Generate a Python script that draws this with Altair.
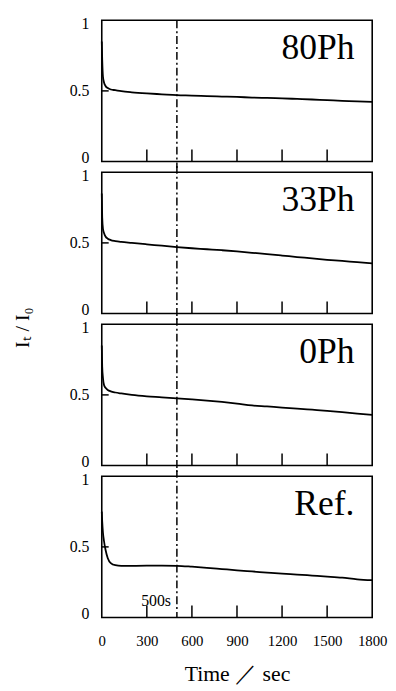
import altair as alt
import pandas as pd

# ---- data ----
time_s = [0, 3, 8, 15, 25, 40, 60, 90, 130, 200, 300, 400, 500, 600, 700,
          800, 900, 1000, 1100, 1200, 1300, 1400, 1500, 1600, 1700, 1800]
ph80 = [0.85, 0.72, 0.60, 0.56, 0.535, 0.52, 0.51, 0.505, 0.498, 0.49, 0.482,
        0.476, 0.47, 0.467, 0.463, 0.46, 0.457, 0.453, 0.45, 0.447, 0.443,
        0.439, 0.434, 0.43, 0.425, 0.422]
ph33 = [0.85, 0.68, 0.60, 0.57, 0.545, 0.53, 0.52, 0.513, 0.507, 0.50, 0.49,
        0.48, 0.47, 0.462, 0.455, 0.448, 0.44, 0.43, 0.42, 0.41, 0.40, 0.39,
        0.38, 0.372, 0.363, 0.355]
ph0 = [0.85, 0.70, 0.62, 0.57, 0.55, 0.535, 0.525, 0.517, 0.51, 0.50, 0.49,
       0.483, 0.475, 0.468, 0.46, 0.45, 0.438, 0.425, 0.418, 0.41, 0.403,
       0.395, 0.387, 0.378, 0.368, 0.358]
ref = [0.75, 0.68, 0.60, 0.54, 0.48, 0.42, 0.385, 0.37, 0.366, 0.366, 0.367,
       0.367, 0.366, 0.36, 0.352, 0.343, 0.334, 0.326, 0.318, 0.31, 0.304,
       0.297, 0.29, 0.282, 0.27, 0.264]
panel_names = ["80Ph", "33Ph", "0Ph", "Ref."]
series = [ph80, ph33, ph0, ref]
inner_ticks = [300, 600, 900, 1200, 1500]
x_tick_labels = [0, 300, 600, 900, 1200, 1500, 1800]
y_tick_labels = [0, 0.5, 1]
y_mid_tick = [0.5]
marker_time = [500]
marker_label = ["500s"]

W, H, GAP = 274, 143, 11
FONT = "Liberation Serif"

xscale = alt.Scale(domain=[0, 1800], nice=False, zero=False)
yscale = alt.Scale(domain=[0, 1], nice=False, zero=False)


def panel(i):
    name = panel_names[i]
    vals = series[i]
    bottom = i == len(panel_names) - 1
    if bottom:
        xaxis = alt.Axis(values=x_tick_labels, format="d", labelOverlap=False,
                         labelFlush=False, ticks=False, domain=False, grid=False,
                         labelFont=FONT, labelFontSize=15, labelColor="black",
                         labelPadding=16, title="Time ／ sec", titleFont=FONT,
                         titleFontSize=22, titleFontWeight="normal", titleColor="black",
                         titlePadding=16)
    else:
        xaxis = None
    yaxis_kw = dict(values=y_tick_labels, format="~g", ticks=False, domain=False,
                    grid=False, labelFont=FONT, labelFontSize=16, labelColor="black",
                    labelPadding=13, labelOverlap=False,
                    labelOffset={"expr": "datum.value == 1 ? 3 : (datum.value == 0 ? -4 : 0)"})
    if i == 1:
        yaxis = alt.Axis(title="Iₜ / I₀", titleFont=FONT, titleFontSize=20,
                         titleFontWeight="normal", titleColor="black",
                         titleX=-70, titleY=H + 14, **yaxis_kw)
    else:
        yaxis = alt.Axis(title=None, **yaxis_kw)

    df = pd.DataFrame({"t": time_s, "v": vals})
    line = alt.Chart(df).mark_line(color="black", strokeWidth=1.8,
                                   interpolate="monotone").encode(
        x=alt.X("t:Q", scale=xscale, axis=xaxis),
        y=alt.Y("v:Q", scale=yscale, axis=yaxis),
    )
    xt = alt.Chart(pd.DataFrame({"t": inner_ticks})).mark_rule(
        color="black", strokeWidth=1.5).encode(
        x=alt.X("t:Q", scale=xscale), y=alt.value(H), y2=alt.value(H - 12))
    yt = alt.Chart(pd.DataFrame({"v": y_mid_tick})).mark_rule(
        color="black", strokeWidth=1.5).encode(
        y=alt.Y("v:Q", scale=yscale), x=alt.value(0), x2=alt.value(7))
    top = 0 if i == 0 else -GAP / 2 - 1
    bot = H if bottom else H + GAP / 2 + 1
    dash = alt.Chart(pd.DataFrame({"t": marker_time})).mark_rule(
        color="black", strokeWidth=1.5, strokeDash=[8, 3, 2, 3]).encode(
        x=alt.X("t:Q", scale=xscale), y=alt.value(top), y2=alt.value(bot))
    lab = alt.Chart(pd.DataFrame({"txt": [name]})).mark_text(
        align="right", baseline="middle", font=FONT, fontSize=36, color="black",
        x=W - 18, y=28).encode(text="txt:N")
    layers = [line, xt, yt, dash, lab]
    if bottom:
        ms = alt.Chart(pd.DataFrame({"t": marker_time, "txt": marker_label})).mark_text(
            align="right", baseline="alphabetic", font=FONT, fontSize=16,
            color="black", dx=-6, y=H - 12).encode(
            x=alt.X("t:Q", scale=xscale), text="txt:N")
        layers.append(ms)
    return alt.layer(*layers).properties(width=W, height=H)


chart = alt.vconcat(*[panel(i) for i in range(4)], spacing=GAP,
                    bounds="flush").properties(
    padding={"left": 4, "top": 2, "right": 0, "bottom": 0},
    background="white",
).configure_view(stroke="black", strokeWidth=1.6)

chart.save("out.html", embed_options={"renderer": "svg", "actions": False})
